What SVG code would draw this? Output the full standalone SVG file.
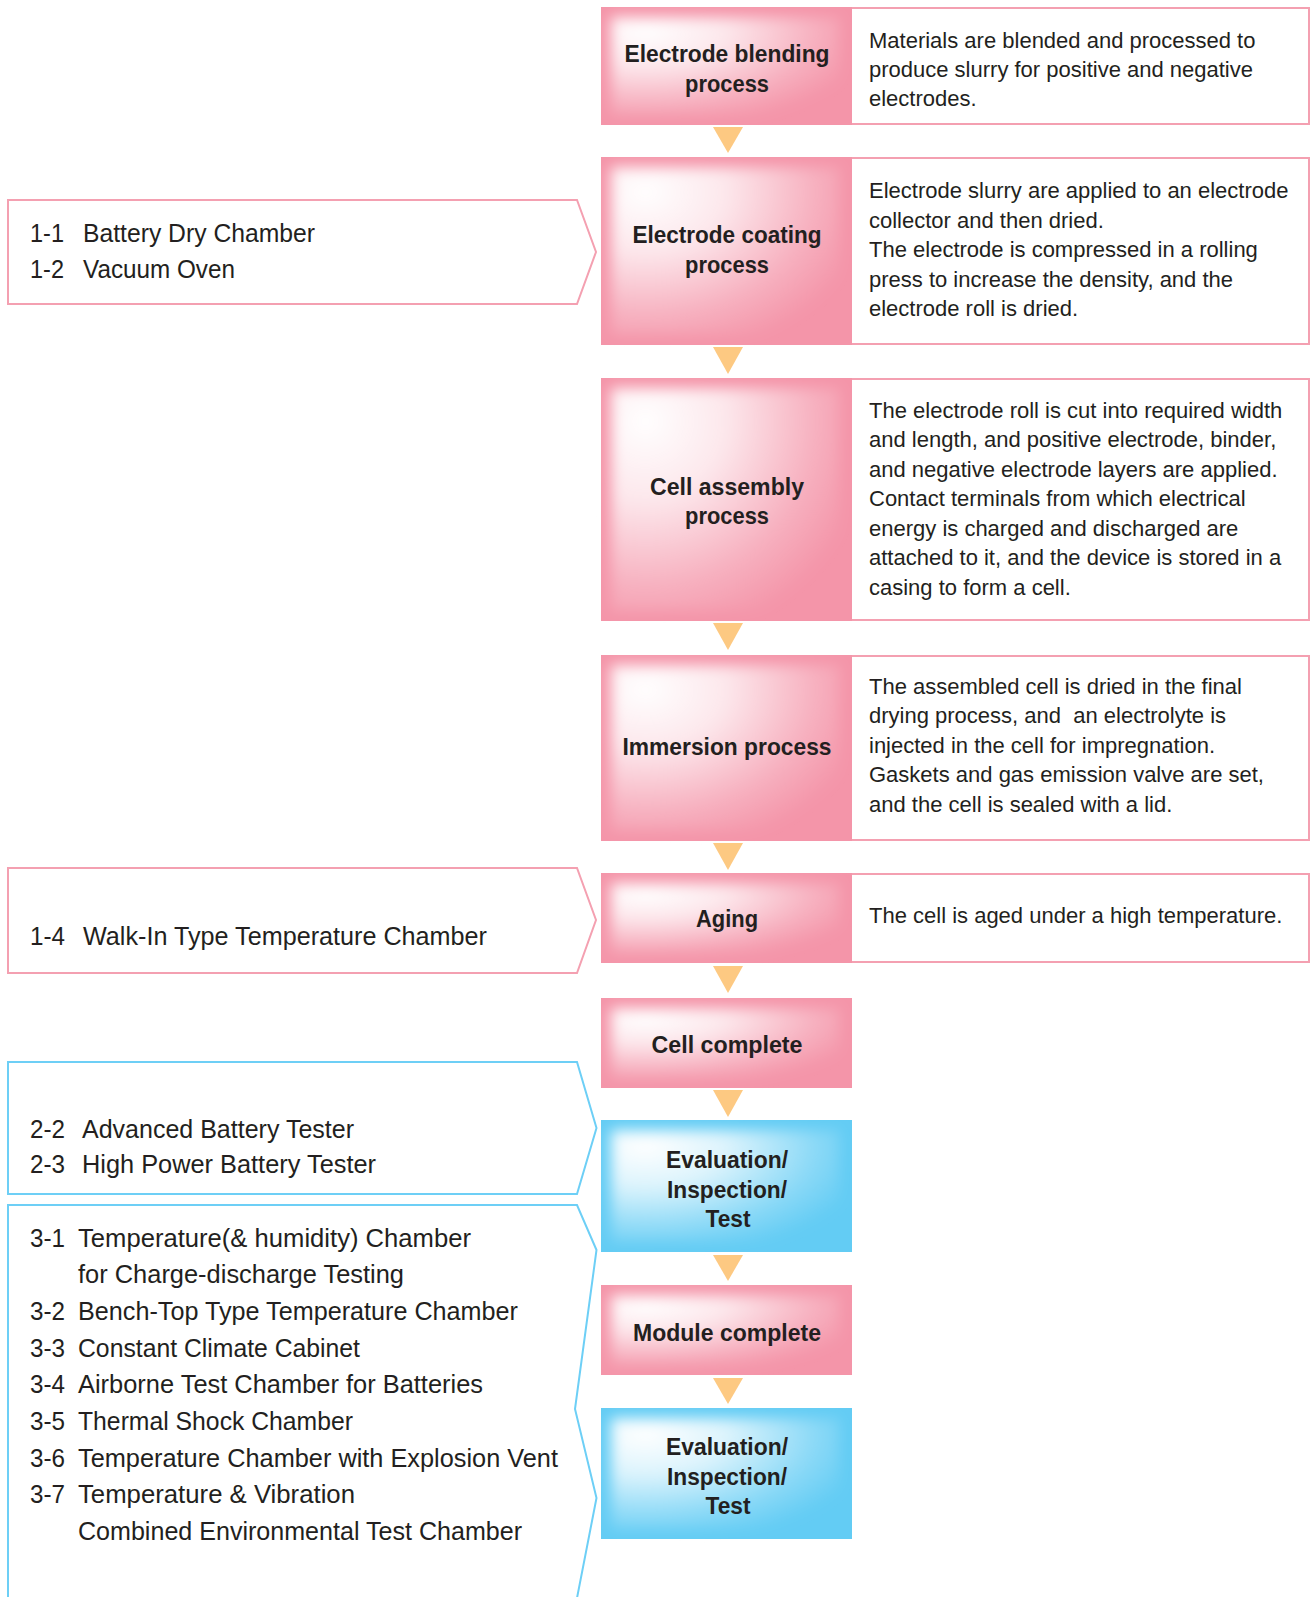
<svg xmlns="http://www.w3.org/2000/svg" width="1314" height="1597" viewBox="0 0 1314 1597">
<style>
.desc{fill:#fff;stroke:#f4a0b1;stroke-width:2}
.pk{fill:#f495a9}
.bl{fill:#63ccf4}
.glow{fill:url(#gl);filter:url(#soft)}
.ttl{font-family:"Liberation Sans",Arial,sans-serif;font-weight:bold;font-size:24px;fill:#231f20;text-anchor:middle}
.dt{font-family:"Liberation Sans",Arial,sans-serif;font-size:22px;fill:#231f20}
.lt{font-family:"Liberation Sans",Arial,sans-serif;font-size:25px;fill:#231f20}
.lpk{fill:#fff;stroke:#f4a0b1;stroke-width:2}
.lbl{fill:#fff;stroke:#6dcff6;stroke-width:2}
.arr{fill:#fdc982}
</style>
<defs>
<radialGradient id="gl" cx="0.15" cy="0.15" r="1">
<stop offset="0" stop-color="#fff" stop-opacity="1"/>
<stop offset="0.35" stop-color="#fff" stop-opacity="0.78"/>
<stop offset="0.75" stop-color="#fff" stop-opacity="0.25"/>
<stop offset="1" stop-color="#fff" stop-opacity="0"/>
</radialGradient>
<filter id="soft" x="-20%" y="-20%" width="140%" height="140%"><feGaussianBlur stdDeviation="7"/></filter>
</defs>
<rect width="1314" height="1597" fill="#fff"/>

<g id="node-blending">
<rect class="desc" x="851" y="8" width="458" height="116"/>
<rect class="pk" x="601" y="7" width="251" height="118"/>
<rect class="glow" x="611" y="17" width="229" height="98"/>
<text class="ttl" x="727" y="62" textLength="205" lengthAdjust="spacingAndGlyphs">Electrode blending</text>
<text class="ttl" x="727" y="92" textLength="84" lengthAdjust="spacingAndGlyphs">process</text>
<text class="dt" x="869" y="48">Materials are blended and processed to</text>
<text class="dt" x="869" y="77">produce slurry for positive and negative</text>
<text class="dt" x="869" y="106">electrodes.</text>
</g>

<g id="node-coating">
<rect class="desc" x="851" y="158" width="458" height="186"/>
<rect class="pk" x="601" y="157" width="251" height="188"/>
<rect class="glow" x="611" y="167" width="229" height="168"/>
<text class="ttl" x="727" y="243" textLength="189" lengthAdjust="spacingAndGlyphs">Electrode coating</text>
<text class="ttl" x="727" y="273" textLength="84" lengthAdjust="spacingAndGlyphs">process</text>
<text class="dt" x="869" y="198">Electrode slurry are applied to an electrode</text>
<text class="dt" x="869" y="227.5">collector and then dried.</text>
<text class="dt" x="869" y="257">The electrode is compressed in a rolling</text>
<text class="dt" x="869" y="286.5">press to increase the density, and the</text>
<text class="dt" x="869" y="316">electrode roll is dried.</text>
</g>

<g id="node-assembly">
<rect class="desc" x="851" y="379" width="458" height="241"/>
<rect class="pk" x="601" y="378" width="251" height="243"/>
<rect class="glow" x="611" y="388" width="229" height="223"/>
<text class="ttl" x="727" y="495" textLength="154" lengthAdjust="spacingAndGlyphs">Cell assembly</text>
<text class="ttl" x="727" y="524" textLength="84" lengthAdjust="spacingAndGlyphs">process</text>
<text class="dt" x="869" y="418">The electrode roll is cut into required width</text>
<text class="dt" x="869" y="447">and length, and positive electrode, binder,</text>
<text class="dt" x="869" y="476.5">and negative electrode layers are applied.</text>
<text class="dt" x="869" y="506">Contact terminals from which electrical</text>
<text class="dt" x="869" y="535.5">energy is charged and discharged are</text>
<text class="dt" x="869" y="565">attached to it, and the device is stored in a</text>
<text class="dt" x="869" y="594.5">casing to form a cell.</text>
</g>

<g id="node-immersion">
<rect class="desc" x="851" y="656" width="458" height="184"/>
<rect class="pk" x="601" y="655" width="251" height="186"/>
<rect class="glow" x="611" y="665" width="229" height="166"/>
<text class="ttl" x="727" y="755" textLength="209" lengthAdjust="spacingAndGlyphs">Immersion process</text>
<text class="dt" x="869" y="693.5">The assembled cell is dried in the final</text>
<text class="dt" x="869" y="723" xml:space="preserve">drying process, and  an electrolyte is</text>
<text class="dt" x="869" y="752.5">injected in the cell for impregnation.</text>
<text class="dt" x="869" y="782">Gaskets and gas emission valve are set,</text>
<text class="dt" x="869" y="811.5">and the cell is sealed with a lid.</text>
</g>

<g id="node-aging">
<rect class="desc" x="851" y="874" width="458" height="88"/>
<rect class="pk" x="601" y="873" width="251" height="90"/>
<rect class="glow" x="611" y="883" width="229" height="70"/>
<text class="ttl" x="727" y="927" textLength="62" lengthAdjust="spacingAndGlyphs">Aging</text>
<text class="dt" x="869" y="923">The cell is aged under a high temperature.</text>
</g>

<g id="node-cell-complete">
<rect class="pk" x="601" y="998" width="251" height="90"/>
<rect class="glow" x="611" y="1008" width="229" height="70"/>
<text class="ttl" x="727" y="1053" textLength="151" lengthAdjust="spacingAndGlyphs">Cell complete</text>
</g>

<g id="node-eval-1">
<rect class="bl" x="601" y="1120" width="251" height="132"/>
<rect class="glow" x="611" y="1130" width="229" height="112"/>
<text class="ttl" x="727" y="1168" textLength="122" lengthAdjust="spacingAndGlyphs">Evaluation/</text>
<text class="ttl" x="727" y="1198" textLength="120" lengthAdjust="spacingAndGlyphs">Inspection/</text>
<text class="ttl" x="728" y="1227" textLength="45" lengthAdjust="spacingAndGlyphs">Test</text>
</g>

<g id="node-module-complete">
<rect class="pk" x="601" y="1285" width="251" height="90"/>
<rect class="glow" x="611" y="1295" width="229" height="70"/>
<text class="ttl" x="727" y="1341" textLength="188" lengthAdjust="spacingAndGlyphs">Module complete</text>
</g>

<g id="node-eval-2">
<rect class="bl" x="601" y="1408" width="251" height="131"/>
<rect class="glow" x="611" y="1418" width="229" height="111"/>
<text class="ttl" x="727" y="1455" textLength="122" lengthAdjust="spacingAndGlyphs">Evaluation/</text>
<text class="ttl" x="727" y="1485" textLength="120" lengthAdjust="spacingAndGlyphs">Inspection/</text>
<text class="ttl" x="728" y="1514" textLength="45" lengthAdjust="spacingAndGlyphs">Test</text>
</g>

<g id="list-dry">
<polygon class="lpk" points="8,200 577,200 596,252 577,304 8,304"/>
<text class="lt" x="30" y="241.5" textLength="34" lengthAdjust="spacingAndGlyphs">1-1</text>
<text class="lt" x="83" y="241.5" textLength="232" lengthAdjust="spacingAndGlyphs">Battery Dry Chamber</text>
<text class="lt" x="30" y="278" textLength="34" lengthAdjust="spacingAndGlyphs">1-2</text>
<text class="lt" x="83" y="278" textLength="152" lengthAdjust="spacingAndGlyphs">Vacuum Oven</text>
</g>

<g id="list-walkin">
<polygon class="lpk" points="8,868 577,868 596,920 577,973 8,973"/>
<text class="lt" x="30" y="945" textLength="35" lengthAdjust="spacingAndGlyphs">1-4</text>
<text class="lt" x="83" y="945" textLength="404" lengthAdjust="spacingAndGlyphs">Walk-In Type Temperature Chamber</text>
</g>

<g id="list-testers">
<polygon class="lbl" points="8,1062 577,1062 596.5,1128 577,1194 8,1194"/>
<text class="lt" x="30" y="1138" textLength="35" lengthAdjust="spacingAndGlyphs">2-2</text>
<text class="lt" x="82" y="1138" textLength="272" lengthAdjust="spacingAndGlyphs">Advanced Battery Tester</text>
<text class="lt" x="30" y="1173" textLength="35" lengthAdjust="spacingAndGlyphs">2-3</text>
<text class="lt" x="82" y="1173" textLength="294" lengthAdjust="spacingAndGlyphs">High Power Battery Tester</text>
</g>

<g id="list-chambers">
<path class="lbl" d="M8,1598 L8,1205 L577,1205 L596.5,1250 L575,1409 L596.5,1498 L577,1598"/>
<text class="lt" x="30" y="1246.5" textLength="35" lengthAdjust="spacingAndGlyphs">3-1</text>
<text class="lt" x="78" y="1246.5" textLength="393" lengthAdjust="spacingAndGlyphs">Temperature(&amp; humidity) Chamber</text>
<text class="lt" x="78" y="1283" textLength="326" lengthAdjust="spacingAndGlyphs">for Charge-discharge Testing</text>
<text class="lt" x="30" y="1320" textLength="35" lengthAdjust="spacingAndGlyphs">3-2</text>
<text class="lt" x="78" y="1320" textLength="440" lengthAdjust="spacingAndGlyphs">Bench-Top Type Temperature Chamber</text>
<text class="lt" x="30" y="1356.5" textLength="35" lengthAdjust="spacingAndGlyphs">3-3</text>
<text class="lt" x="78" y="1356.5" textLength="282" lengthAdjust="spacingAndGlyphs">Constant Climate Cabinet</text>
<text class="lt" x="30" y="1393" textLength="35" lengthAdjust="spacingAndGlyphs">3-4</text>
<text class="lt" x="78" y="1393" textLength="405" lengthAdjust="spacingAndGlyphs">Airborne Test Chamber for Batteries</text>
<text class="lt" x="30" y="1430" textLength="35" lengthAdjust="spacingAndGlyphs">3-5</text>
<text class="lt" x="78" y="1430" textLength="275" lengthAdjust="spacingAndGlyphs">Thermal Shock Chamber</text>
<text class="lt" x="30" y="1466.5" textLength="35" lengthAdjust="spacingAndGlyphs">3-6</text>
<text class="lt" x="78" y="1466.5" textLength="480" lengthAdjust="spacingAndGlyphs">Temperature Chamber with Explosion Vent</text>
<text class="lt" x="30" y="1503" textLength="35" lengthAdjust="spacingAndGlyphs">3-7</text>
<text class="lt" x="78" y="1503" textLength="277" lengthAdjust="spacingAndGlyphs">Temperature &amp; Vibration</text>
<text class="lt" x="78" y="1540" textLength="444" lengthAdjust="spacingAndGlyphs">Combined Environmental Test Chamber</text>
</g>

<g id="connectors">
<polygon class="arr" points="713,127 743,127 728,153"/>
<polygon class="arr" points="713,347 743,347 728,374"/>
<polygon class="arr" points="713,623 743,623 728,650"/>
<polygon class="arr" points="713,843 743,843 728,870"/>
<polygon class="arr" points="713,966 743,966 728,993"/>
<polygon class="arr" points="713,1090 743,1090 728,1117"/>
<polygon class="arr" points="713,1255 743,1255 728,1281"/>
<polygon class="arr" points="713,1378 743,1378 728,1404"/>
</g>
</svg>
